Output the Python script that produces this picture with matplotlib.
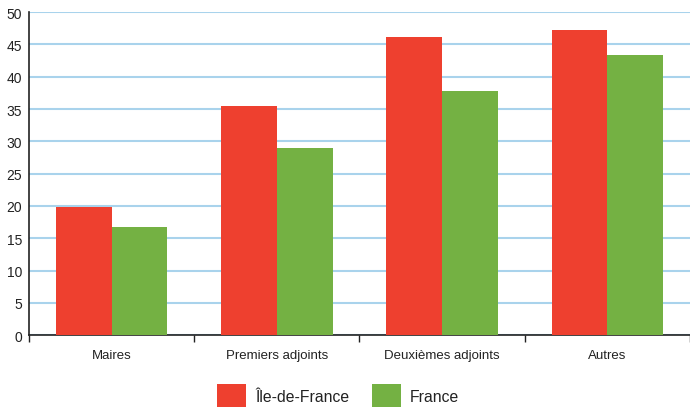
import matplotlib.pyplot as plt
import numpy as np

plt.rcParams['font.family'] = ['Liberation Sans', 'DejaVu Sans']

categories = ['Maires', 'Premiers adjoints', 'Deuxièmes adjoints', 'Autres']
idf = [19.9, 35.4, 46.1, 47.2]
france = [16.7, 28.9, 37.8, 43.3]
yticks = list(range(0, 51, 5))

red = '#ee402f'
green = '#74b143'

fig = plt.figure(figsize=(6.9, 4.1), dpi=100)
ax = fig.add_axes([0.042, 0.180, 0.958, 0.788])

x = np.arange(len(categories))
w = 0.337
ax.bar(x - w / 2, idf, w, color=red, label='Île-de-France', zorder=3)
ax.bar(x + w / 2, france, w, color=green, label='France', zorder=3)

ax.set_ylim(0, 50)
ax.set_xlim(-0.5, 3.48)
ax.set_yticks(yticks)
ax.yaxis.grid(True, color='#a9d3ec', linewidth=1.5, zorder=0)
ax.tick_params(axis='y', length=0, labelsize=10, colors='#222222', pad=5)

ax.set_xticks(x)
ax.set_xticklabels(categories)
ax.tick_params(axis='x', which='major', length=0, labelsize=9.5, colors='#222222', pad=10)
ax.set_xticks(np.arange(-0.5, 3.6, 1.0), minor=True)
ax.tick_params(axis='x', which='minor', length=5, width=1, color='#222222')

for s in ['top', 'right']:
    ax.spines[s].set_visible(False)
for s in ['left', 'bottom']:
    ax.spines[s].set_color('#222222')
    ax.spines[s].set_linewidth(1.2)

fig.legend(loc='lower center', bbox_to_anchor=(0.49, -0.03), ncol=2, frameon=False,
           fontsize=11.3, handlelength=1.85, handleheight=1.9, columnspacing=1.47,
           handletextpad=0.57, labelcolor='#222222')

fig.savefig('out.png', dpi=100)
